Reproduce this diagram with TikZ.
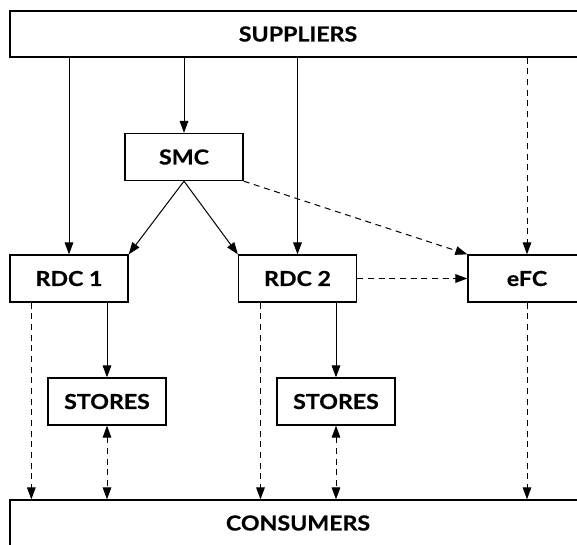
\documentclass[tikz,border=0pt]{standalone}
\usepackage{fontspec}
\setsansfont{Lato}[FakeStretch=1.12, BoldFeatures={FakeBold=0.6}]
\usetikzlibrary{arrows.meta}

\begin{document}
\begin{tikzpicture}[
    x=0.75pt,
    y=-0.75pt,
    block/.style={
        rectangle,
        draw,
        line width=1pt,
        minimum width=88.5pt,
        minimum height=35.25pt,
        inner sep=0pt,
        font=\sffamily\bfseries\fontsize{15.5}{18}\selectfont
    },
    tier/.style={
        block,
        minimum width=432pt,
        minimum height=34.5pt
    },
    line/.style={
        draw,
        -{Triangle[length=9pt,width=6.5pt]},
        line width=0.75pt
    },
    online/.style={
        line,
        dash pattern=on 4.5pt off 3.5pt
    },
    both/.style={
        online,
        {Triangle[length=9pt,width=6.5pt]}-{Triangle[length=9pt,width=6.5pt]}
    }
]
    \useasboundingbox (0,0) rectangle (577,544);

    % Components
    \node [tier] (sup) at (298,34) {SUPPLIERS};
    \node [block] (smc) at (184,157) {SMC};
    \node [block] (rdc1) at (69,278.5) {RDC 1};
    \node [block] (rdc2) at (297.5,278.5) {RDC 2};
    \node [block] (efc) at (527,278.5) {eFC};
    \node [block] (st1) at (107,401.5) {STORES};
    \node [block] (st2) at (336,401.5) {STORES};
    \node [tier] (con) at (298,523) {CONSUMERS};

    % Store channel (solid)
    \path [line] (rdc1 |- sup.south) -- (rdc1.north);
    \path [line] (smc |- sup.south) -- (smc.north);
    \path [line] (rdc2 |- sup.south) -- (rdc2.north);
    \path [line] (smc.south) -- (rdc1.north east);
    \path [line] (smc.south) -- (rdc2.north west);
    \path [line] (st1 |- rdc1.south) -- (st1.north);
    \path [line] (st2 |- rdc2.south) -- (st2.north);

    % Online channel (dashed)
    \path [online] (efc |- sup.south) -- (efc.north);
    \path [online] (smc.south east) -- (efc.north west);
    \path [online] (rdc2.east) -- (efc.west);
    \coordinate (o1) at ([xshift=16.5pt]rdc1.south west);
    \coordinate (o2) at ([xshift=17pt]rdc2.south west);
    \path [online] (o1) -- (o1 |- con.north);
    \path [online] (o2) -- (o2 |- con.north);
    \path [online] (efc.south) -- (efc |- con.north);
    \path [both] (st1.south) -- (st1 |- con.north);
    \path [both] (st2.south) -- (st2 |- con.north);
\end{tikzpicture}
\end{document}
